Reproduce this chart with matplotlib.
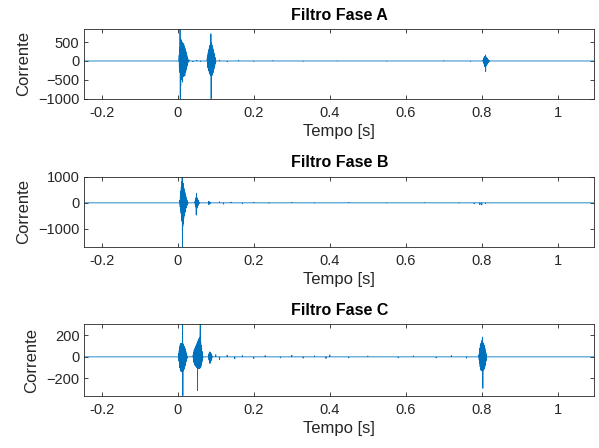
import numpy as np
import matplotlib
matplotlib.use("Agg")
import matplotlib.pyplot as plt

plt.rcParams['font.family'] = ['Liberation Sans', 'DejaVu Sans']

# time span of the record (s)
t_first = -0.246
t_last = 1.096
dt = 0.0006  # sample step inside a burst

# ---- Fase A ----
burstA_start = [0.003, 0.077, 0.803]
burstA_vals = [
    [0, 150, -200, 350, -300, 900, -1000, 600, -650, 480, -500, 560, -450, 470,
     -420, 500, -560, 450, -420, 420, -400, 460, -380, 400, -360, 380, -400,
     330, -300, 300, -280, 250, -220, 200, -180, 150, -130, 100, -80, 60, -40,
     20, 0],
    [0, 80, -100, 150, -180, 220, -200, 280, -260, 320, -300, 380, -330, 420,
     -360, 500, -380, 720, -1000, 480, -400, 430, -380, 400, -350, 350, -320,
     300, -280, 250, -220, 200, -170, 150, -120, 100, -70, 50, -30, 0],
    [0, 30, -40, 60, -60, 90, -100, 120, -150, 100, -120, 160, -280, 110,
     -130, 90, -110, 80, -90, 60, -60, 45, -45, 30, -30, 20, -20, 10, 0],
]
noiseA_t = [0.03, 0.04, 0.05, 0.06, 0.11, 0.13, 0.16, 0.2, 0.25, 0.33, 0.42, 0.55, 0.7, 0.77]
noiseA_v = [25, -20, 18, -15, 22, -18, 15, -12, 10, -10, 8, -8, 10, -12]

# ---- Fase B ----
burstB_start = [0.005, 0.045, 0.080]
burstB_vals = [
    [0, 100, -150, 250, -300, 450, -400, 600, -550, 800, -700, 1000, -1700,
     850, -900, 750, -800, 650, -600, 550, -500, 480, -420, 400, -350, 320,
     -280, 250, -200, 180, -150, 120, -100, 80, -60, 40, -20, 0],
    [0, 60, -80, 120, -150, 200, -470, 360, -250, 200, -180, 150, -130, 120,
     -100, 80, -60, 40, -30, 20, 0],
    [0, 40, -60, 50, -40, 30, -50, 25, -20, 15, -10, 0],
]
noiseB_t = [0.11, 0.12, 0.14, 0.17, 0.2, 0.24, 0.3, 0.36, 0.45, 0.55, 0.65, 0.74, 0.78, 0.795, 0.80, 0.81]
noiseB_v = [40, -50, 30, -30, 25, -20, 20, -15, 15, -12, 12, -15, -40, -70, -80, -30]

# ---- Fase C ----
burstC_start = [0.002, 0.040, 0.081, 0.792]
burstC_vals = [
    [0, 30, -40, 60, -70, 90, -100, 110, -120, 120, -130, 125, -138, 120,
     -130, 115, -125, 130, 300, -360, 120, -130, 110, -120, 100, -110, 90, -95,
     80, -80, 65, -60, 50, -45, 35, -30, 20, -15, 0],
    [0, 20, -30, 40, -50, 60, -60, 70, -70, 80, -80, 90, -85, 100, -90, 110,
     -95, 120, -100, 130, -313, 140, -100, 150, -105, 160, -105, 170, -107,
     180, -107, 184, 300, -100, 140, -90, 110, -70, 80, -50, 50, -30, 25, -10, 0],
    [0, 20, -30, 35, -45, 46, -61, 40, -50, 35, -40, 30, -30, 20, -20, 10, 0],
    [0, 20, -30, 50, -60, 80, -90, 110, -120, 123, -122, 120, -120, 140,
     -130, 160, -140, 184, -291, 130, -122, 120, -120, 110, -110, 100, -100,
     80, -80, 60, -60, 40, -40, 20, -20, 0],
]
noiseC_t = [0.10, 0.11, 0.13, 0.15, 0.17, 0.2, 0.23, 0.27, 0.3, 0.33, 0.36,
            0.39, 0.4, 0.45, 0.5, 0.58, 0.62, 0.68, 0.72, 0.76]
noiseC_v = [20, -25, 15, -18, 12, -15, 12, -10, 15, -12, 10, -15, 18, -8, 8,
            -8, 10, -10, 12, -12]

titles = ['Filtro Fase A', 'Filtro Fase B', 'Filtro Fase C']
ylims = [(-1000, 840), (-1700, 1000), (-360, 300)]
yticks = [[-1000, -500, 0, 500], [-1000, 0, 1000], [-200, 0, 200]]
xticks = [-0.2, 0, 0.2, 0.4, 0.6, 0.8, 1]


def build_series(starts, vals, n_t, n_v):
    pts = [(t_first, 0.0), (t_last, 0.0)]
    for s, v in zip(starts, vals):
        for i, y in enumerate(v):
            pts.append((s + i * dt, y))
    for t, y in zip(n_t, n_v):
        pts.append((t - dt, 0.0))
        pts.append((t, y))
        pts.append((t + dt, 0.0))
    pts.sort(key=lambda p: p[0])
    return np.array([p[0] for p in pts]), np.array([p[1] for p in pts])


series = [
    build_series(burstA_start, burstA_vals, noiseA_t, noiseA_v),
    build_series(burstB_start, burstB_vals, noiseB_t, noiseB_v),
    build_series(burstC_start, burstC_vals, noiseC_t, noiseC_v),
]

fig = plt.figure(figsize=(5.99, 4.48), dpi=100)
positions = [
    [0.1407, 0.7797, 0.8514, 0.1549],
    [0.1407, 0.4480, 0.8514, 0.1576],
    [0.1407, 0.1167, 0.8514, 0.1590],
]
grey = '#262626'
for k in range(3):
    ax = fig.add_axes(positions[k])
    t, y = series[k]
    ax.plot(t, y, color='#0072BD', linewidth=0.6)
    ax.set_xlim(t_first, t_last)
    ax.set_ylim(*ylims[k])
    ax.set_xticks(xticks)
    ax.set_xticklabels(['-0.2', '0', '0.2', '0.4', '0.6', '0.8', '1'])
    ax.set_yticks(yticks[k])
    ax.tick_params(direction='in', length=3, width=0.6, colors=grey,
                   labelsize=10.5, top=True, right=True, labelcolor=grey)
    ax.tick_params(axis='x', pad=5)
    for sp in ax.spines.values():
        sp.set_color(grey)
        sp.set_linewidth(0.6)
    ax.set_title(titles[k], fontsize=11.5, fontweight='bold', pad=7)
    ax.set_xlabel('Tempo [s]', fontsize=12, color=grey, labelpad=3)
    ax.set_ylabel('Corrente', fontsize=12, color=grey, labelpad=5)

fig.savefig('out.png', dpi=100)
